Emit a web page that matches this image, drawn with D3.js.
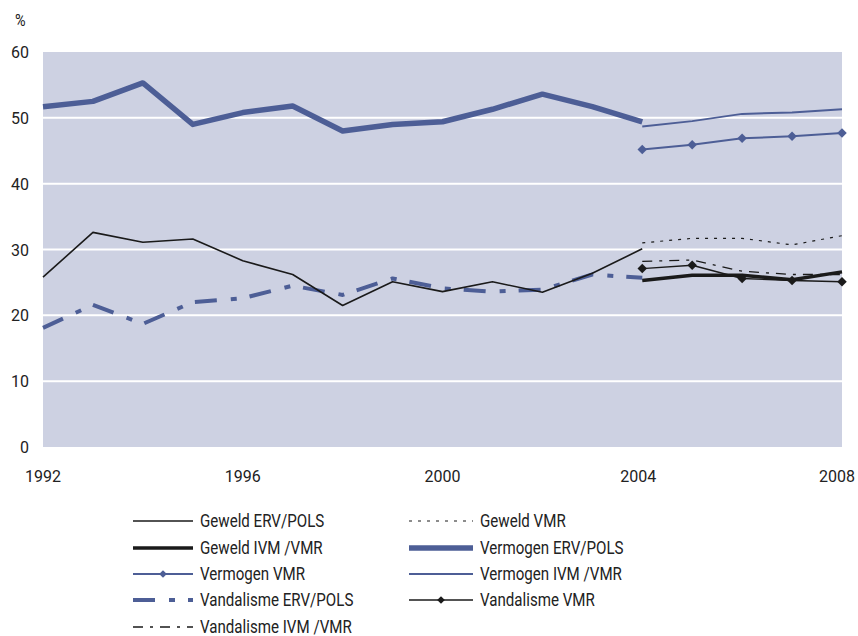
<!DOCTYPE html>
<html>
<head>
<meta charset="utf-8">
<script src="https://cdn.jsdelivr.net/npm/d3@7"></script>
<style>
  body { margin: 0; background: #fff; }
  svg { display: block; }
  .tick-label { font-family: Roboto, "Liberation Sans", sans-serif; font-size: 16px; fill: #222; }
  .legend-label { font-family: Roboto, "Liberation Sans", sans-serif; font-size: 18px; fill: #222; }
</style>
</head>
<body>
<div class="chart"></div>
<script>
// Years
const yearsLong = [1992, 1993, 1994, 1995, 1996, 1997, 1998, 1999, 2000, 2001, 2002, 2003, 2004]
const yearsShort = [2004, 2005, 2006, 2007, 2008]

// ERV/POLS series (1992-2004)
const geweldErv = [25.8, 32.6, 31.1, 31.6, 28.3, 26.2, 21.5, 25.1, 23.6, 25.1, 23.5, 26.4, 30.1]
const vermogenErv = [51.7, 52.5, 55.3, 49.0, 50.8, 51.8, 48.0, 49.0, 49.4, 51.3, 53.6, 51.7, 49.4]
const vandalismeErv = [18.1, 21.6, 18.7, 22.0, 22.6, 24.5, 23.1, 25.6, 24.1, 23.6, 23.9, 26.2, 25.7]

// VMR and IVM/VMR series (2004-2008)
const geweldVmr = [31.0, 31.7, 31.7, 30.7, 32.1]
const geweldIvm = [25.3, 26.1, 26.1, 25.4, 26.6]
const vermogenVmr = [45.2, 45.9, 46.9, 47.2, 47.7]
const vermogenIvm = [48.7, 49.5, 50.6, 50.8, 51.3]
const vandalismeVmr = [27.1, 27.6, 25.6, 25.3, 25.1]
const vandalismeIvm = [28.2, 28.4, 26.7, 26.2, 26.2]

const yTicks = [0, 10, 20, 30, 40, 50, 60]
const xTicks = [1992, 1996, 2000, 2004, 2008]

const blue = '#4d5e96'
const black = '#1a1a1a'

const series = [
    {name: 'Vandalisme ERV/POLS', years: yearsLong, values: vandalismeErv, color: blue, width: 4, dash: '22,14,6,13'},
    {name: 'Geweld ERV/POLS', years: yearsLong, values: geweldErv, color: black, width: 1.6},
    {name: 'Geweld VMR', years: yearsShort, values: geweldVmr, color: black, width: 1.2, dash: '3,6'},
    {name: 'Vandalisme IVM /VMR', years: yearsShort, values: vandalismeIvm, color: black, width: 1.3, dash: '10,7,3,7'},
    {name: 'Geweld IVM /VMR', years: yearsShort, values: geweldIvm, color: black, width: 3.5},
    {name: 'Vandalisme VMR', years: yearsShort, values: vandalismeVmr, color: black, width: 1.4, marker: true},
    {name: 'Vermogen ERV/POLS', years: yearsLong, values: vermogenErv, color: blue, width: 5.5},
    {name: 'Vermogen IVM /VMR', years: yearsShort, values: vermogenIvm, color: blue, width: 2},
    {name: 'Vermogen VMR', years: yearsShort, values: vermogenVmr, color: blue, width: 2, marker: true}
]

// legend layout: two columns
const legendCol1 = ['Geweld ERV/POLS', 'Geweld IVM /VMR', 'Vermogen VMR', 'Vandalisme ERV/POLS', 'Vandalisme IVM /VMR']
const legendCol2 = ['Geweld VMR', 'Vermogen ERV/POLS', 'Vermogen IVM /VMR', 'Vandalisme VMR']

const width = 858
const height = 636

const svg = d3.select('.chart')
    .append('svg')
    .attr('width', width)
    .attr('height', height)

const x = d3.scaleLinear().domain([1992, 2008]).range([43, 842])
const y = d3.scaleLinear().domain([0, 60]).range([447, 52])

// Plot background
svg.append('rect')
    .attr('x', x(1992))
    .attr('y', y(60))
    .attr('width', x(2008) - x(1992))
    .attr('height', y(0) - y(60))
    .attr('fill', '#cdd1e2')

// Gridlines
svg.selectAll('.grid')
    .data(yTicks.filter(d => d > 0 && d < 60))
    .enter()
    .append('line')
    .attr('x1', x(1992))
    .attr('x2', x(2008))
    .attr('y1', d => y(d))
    .attr('y2', d => y(d))
    .attr('stroke', '#fff')
    .attr('stroke-width', 2)

// Y axis labels
svg.selectAll('.ylab')
    .data(yTicks)
    .enter()
    .append('text')
    .attr('class', 'tick-label')
    .attr('x', 29)
    .attr('y', d => y(d) + 6)
    .attr('text-anchor', 'end')
    .text(d => d)

svg.append('text')
    .attr('class', 'tick-label')
    .attr('transform', 'translate(15,26) scale(0.85,1)')
    .style('font-size', '17px')
    .text('%')

// X axis labels
svg.selectAll('.xlab')
    .data(xTicks)
    .enter()
    .append('text')
    .attr('class', 'tick-label')
    .attr('x', d => x(d) - (d === 2008 ? 5 : 0) - (d === 2004 ? 4 : 0))
    .attr('y', 482)
    .attr('text-anchor', 'middle')
    .text(d => d)

const line = d3.line()
    .x(d => x(d[0]))
    .y(d => y(d[1]))

// square turned 45 degrees, like the original markers
const diamond = d3.symbol().type(d3.symbolSquare).size(45)

series.forEach(s => {
    const pts = s.years.map((yr, i) => [yr, s.values[i]])
    svg.append('path')
        .datum(pts)
        .attr('d', line)
        .attr('fill', 'none')
        .attr('stroke', s.color)
        .attr('stroke-width', s.width)
        .attr('stroke-dasharray', s.dash || null)
        .attr('stroke-linejoin', 'round')
    if (s.marker) {
        svg.selectAll(null)
            .data(pts)
            .enter()
            .append('path')
            .attr('d', diamond)
            .attr('transform', d => 'translate(' + x(d[0]) + ',' + y(d[1]) + ') rotate(45)')
            .attr('fill', s.color)
    }
})

// Legend
const legendRows = [521, 548, 574, 600, 627]
const drawLegend = (names, x0, x1) => {
    names.forEach((name, i) => {
        const s = series.find(d => d.name === name)
        const ly = legendRows[i]
        const g = svg.append('g')
        g.append('line')
            .attr('x1', x0)
            .attr('x2', x1)
            .attr('y1', ly)
            .attr('y2', ly)
            .attr('stroke', s.color)
            .attr('stroke-width', s.width)
            .attr('stroke-dasharray', s.dash || null)
        if (s.marker) {
            g.append('path')
                .attr('d', d3.symbol().type(d3.symbolSquare).size(30))
                .attr('transform', 'translate(' + ((x0 + x1) / 2) + ',' + ly + ') rotate(45)')
                .attr('fill', s.color)
        }
        // condensed look of the original legend font
        g.append('text')
            .attr('class', 'legend-label')
            .attr('transform', 'translate(' + (x1 + 7) + ',' + (ly + 6) + ') scale(0.84,1)')
            .text(name)
    })
}
drawLegend(legendCol1, 133, 193)
drawLegend(legendCol2, 409, 473)
</script>
</body>
</html>
